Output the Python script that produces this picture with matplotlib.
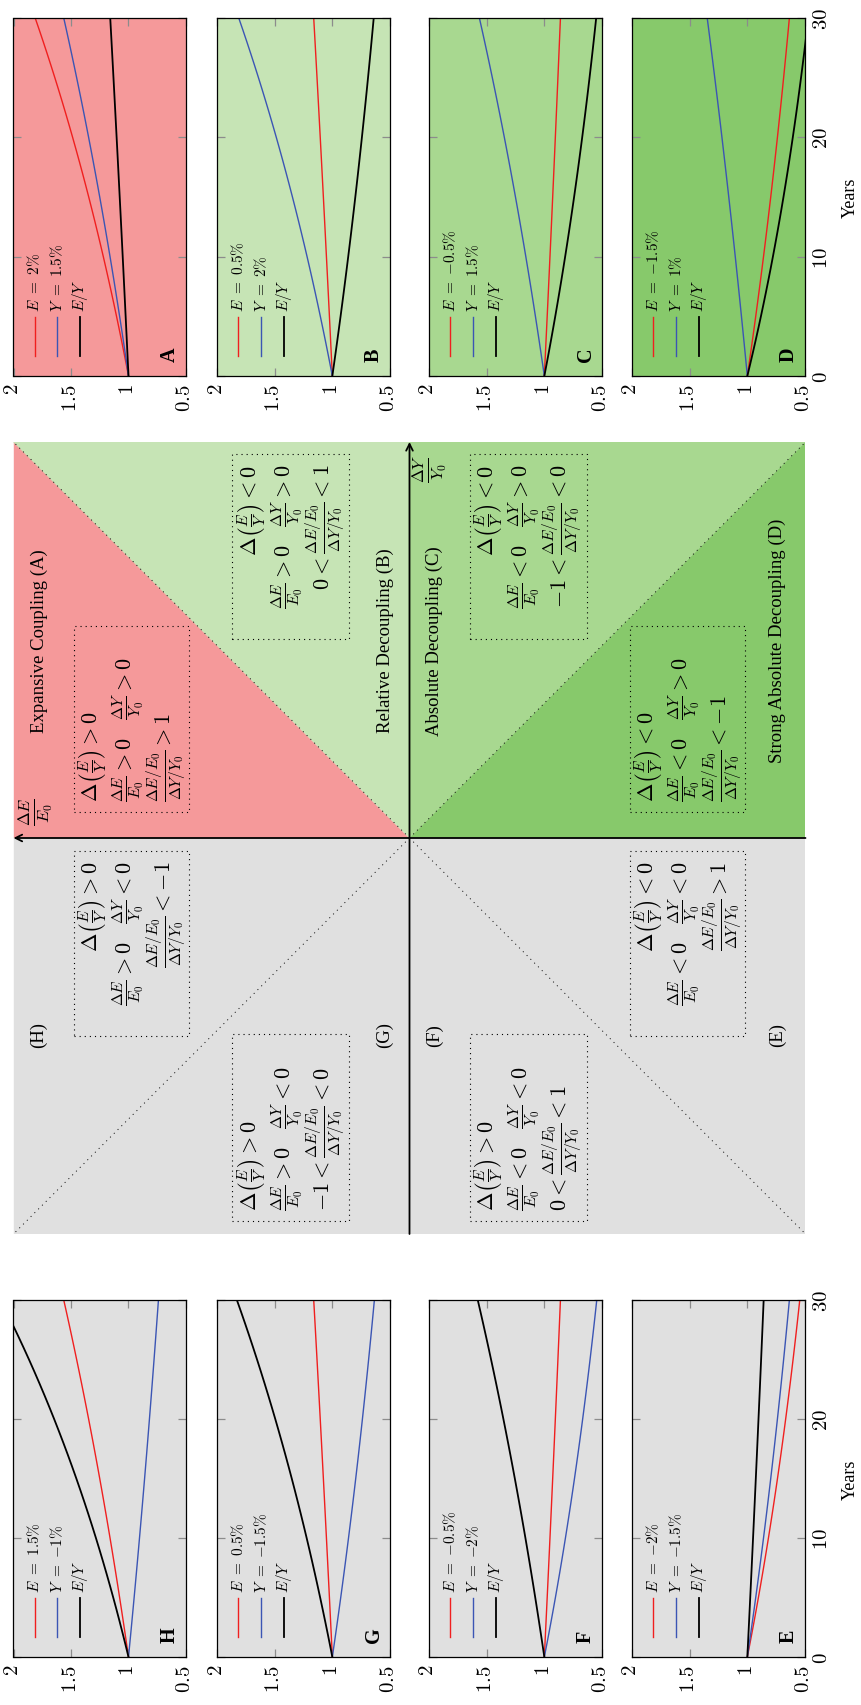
import numpy as np
import matplotlib
matplotlib.use("Agg")
import matplotlib.pyplot as plt
from matplotlib.patches import Polygon, Rectangle

plt.rcParams["font.family"] = ["Liberation Serif", "DejaVu Serif"]
plt.rcParams["mathtext.fontset"] = "cm"

W, H = 862, 1706

# ---- scenario data: annual growth rates (%) of emissions E and output Y ----
panel_names = ["A", "B", "C", "D", "H", "G", "F", "E"]
growth_E = [2.0, 0.5, -0.5, -1.5, 1.5, 0.5, -0.5, -2.0]
growth_Y = [1.5, 2.0, 1.5, 1.0, -1.0, -1.5, -2.0, -1.5]
legend_E = ["2", "0.5", "-0.5", "-1.5", "1.5", "0.5", "-0.5", "-2"]
legend_Y = ["1.5", "2", "1.5", "1", "-1", "-1.5", "-2", "-1.5"]

years = np.arange(0, 31)
value_ticks = [0.5, 1, 1.5, 2]
value_ticklabels = ["$0.5$", "$1$", "$1.5$", "$2$"]
year_ticks = [0, 10, 20, 30]
year_ticklabels = ["$0$", "$10$", "$20$", "$30$"]

# region colours
C_A = "#f5999a"
C_B = "#c6e4b5"
C_C = "#a8d890"
C_D = "#87c96b"
C_GRAY = "#e0e0e0"
panel_colors = [C_A, C_B, C_C, C_D, C_GRAY, C_GRAY, C_GRAY, C_GRAY]
RED = "#f01f1f"
BLUE = "#3b55b4"

# ---- quadrant diagram text ----
region_labels = ["Expansive Coupling (A)", "Relative Decoupling (B)",
                 "Absolute Decoupling (C)", "Strong Absolute Decoupling (D)",
                 "(H)", "(G)", "(F)", "(E)"]


def px_rect(x0, x1, y0, y1):
    return [x0 / W, 1 - y1 / H, (x1 - x0) / W, (y1 - y0) / H]


fig = plt.figure(figsize=(W / 100, H / 100), dpi=100)

col_x = [(13.5, 186), (217, 390), (429, 602), (632, 805)]
group_y = [(19, 377), (1301, 1658)]

for i, name in enumerate(panel_names):
    g, c = divmod(i, 4)
    x0, x1 = col_x[c]
    y0, y1 = group_y[g]
    ax = fig.add_axes(px_rect(x0, x1, y0, y1))
    ax.set_facecolor(panel_colors[i])

    e = (1 + growth_E[i] / 100) ** years
    y = (1 + growth_Y[i] / 100) ** years
    ax.plot(e, years, color=RED, lw=1.0)
    ax.plot(y, years, color=BLUE, lw=1.0)
    ax.plot(e / y, years, color="black", lw=1.3)

    # legend drawn sideways
    labels = [r"$E\ =\ {%s}\%%$" % legend_E[i], r"$Y\ =\ {%s}\%%$" % legend_Y[i], r"$E/Y$"]
    styles = [(RED, 1.0), (BLUE, 1.0), ("black", 1.3)]
    for k, xk in enumerate([0.122, 0.255, 0.388]):
        col, lw = styles[k]
        ax.plot([xk, xk], [0.056, 0.165], transform=ax.transAxes, color=col, lw=lw)
        ax.text(xk, 0.182, labels[k], transform=ax.transAxes, rotation=90,
                ha="center", va="bottom", fontsize=11)

    ax.text(0.907, 0.042, name, transform=ax.transAxes, rotation=90,
            ha="center", va="bottom", fontsize=14.5, fontweight="bold")

    ax.set_xlim(2, 0.5)
    ax.set_ylim(0, 30)
    ax.set_xticks(value_ticks)
    ax.set_xticklabels(value_ticklabels, rotation=90, fontsize=15)
    ax.set_yticks(year_ticks)
    ax.tick_params(axis="both", direction="in", length=6, width=0.9,
                   color="#8c8c8c", top=True, right=True, bottom=True, left=True)
    ax.tick_params(axis="x", pad=5)
    if c == 3:
        ax.set_yticklabels(year_ticklabels, rotation=90, fontsize=15, va="center")
        ax.tick_params(axis="y", labelleft=False, labelright=True, pad=6)
        fig.text(850 / W, 1 - (y0 + y1) / 2 / H, "Years", rotation=90,
                 ha="center", va="center", fontsize=13)
    else:
        ax.tick_params(axis="y", labelleft=False, labelright=False)
    for sp in ax.spines.values():
        sp.set_linewidth(0.9)
        sp.set_color("black")

# ---- central decoupling diagram (v = dE/E0 points left, u = dY/Y0 points up) ----
axd = fig.add_axes(px_rect(13.5, 805.5, 443, 1235))
axd.set_xlim(1, -1)
axd.set_ylim(-1, 1)
axd.axis("off")

regions = [
    ([(0, 0), (1, 0), (1, 1)], C_A),
    ([(0, 0), (1, 1), (0, 1)], C_B),
    ([(0, 0), (0, 1), (-1, 1)], C_C),
    ([(0, 0), (-1, 1), (-1, 0)], C_D),
    ([(-1, -1), (1, -1), (1, 0), (-1, 0)], C_GRAY),
]
for verts, col in regions:
    axd.add_patch(Polygon(verts, closed=True, facecolor=col, edgecolor=col, lw=0.3))

for a, b in [(1, 1), (-1, 1), (1, -1), (-1, -1)]:
    axd.plot([0, a], [0, b], color="black", lw=0.7, dashes=(1, 4.5))

arrow = dict(arrowstyle="->", lw=1.3, color="black", shrinkA=0, shrinkB=0,
             mutation_scale=12)
axd.annotate("", xy=(1, 0), xytext=(-1, 0), arrowprops=arrow, annotation_clip=False)
axd.annotate("", xy=(0, 1), xytext=(0, -1), arrowprops=arrow, annotation_clip=False)

axd.text(0.028, 0.534, r"$\frac{\Delta E}{E_0}$", transform=axd.transAxes,
         rotation=90, ha="center", va="center", fontsize=17)
axd.text(0.526, 0.967, r"$\frac{\Delta Y}{Y_0}$", transform=axd.transAxes,
         rotation=90, ha="center", va="center", fontsize=17)

label_pos = [(0.032, 0.75), (0.469, 0.75), (0.531, 0.75), (0.965, 0.75),
             (0.032, 0.252), (0.469, 0.252), (0.531, 0.252), (0.965, 0.252)]
for txt, (lx, ly) in zip(region_labels, label_pos):
    axd.text(lx, ly, txt, transform=axd.transAxes, rotation=90,
             ha="center", va="center", fontsize=13.5)

# condition boxes: (x0, x1, y0, y1, alignment, lines)
frac_E = r"\frac{\Delta E}{E_0}"
frac_Y = r"\frac{\Delta Y}{Y_0}"
ratio = r"\frac{\Delta E/E_0}{\Delta Y/Y_0}"
boxes = [
    (0.0764, 0.2222, 0.5328, 0.7678, "bottom",
     [r"$\Delta\left(\frac{E}{Y}\right) > 0$",
      r"$%s > 0\quad %s > 0$" % (frac_E, frac_Y),
      r"$%s > 1$" % ratio]),
    (0.2764, 0.4236, 0.7508, 0.9844, "top",
     [r"$\Delta\left(\frac{E}{Y}\right) < 0$",
      r"$%s > 0\quad %s > 0$" % (frac_E, frac_Y),
      r"$0 < %s < 1$" % ratio]),
    (0.5764, 0.7243, 0.7508, 0.9844, "top",
     [r"$\Delta\left(\frac{E}{Y}\right) < 0$",
      r"$%s < 0\quad %s > 0$" % (frac_E, frac_Y),
      r"$-1 < %s < 0$" % ratio]),
    (0.7778, 0.9236, 0.5328, 0.7678, "bottom",
     [r"$\Delta\left(\frac{E}{Y}\right) < 0$",
      r"$%s < 0\quad %s > 0$" % (frac_E, frac_Y),
      r"$%s < -1$" % ratio]),
    (0.0764, 0.2222, 0.2498, 0.4834, "top",
     [r"$\Delta\left(\frac{E}{Y}\right) > 0$",
      r"$%s > 0\quad %s < 0$" % (frac_E, frac_Y),
      r"$%s < -1$" % ratio]),
    (0.2764, 0.4236, 0.0169, 0.2519, "bottom",
     [r"$\Delta\left(\frac{E}{Y}\right) > 0$",
      r"$%s > 0\quad %s < 0$" % (frac_E, frac_Y),
      r"$-1 < %s < 0$" % ratio]),
    (0.5764, 0.7243, 0.0169, 0.2519, "bottom",
     [r"$\Delta\left(\frac{E}{Y}\right) > 0$",
      r"$%s < 0\quad %s < 0$" % (frac_E, frac_Y),
      r"$0 < %s < 1$" % ratio]),
    (0.7778, 0.9236, 0.2498, 0.4834, "top",
     [r"$\Delta\left(\frac{E}{Y}\right) < 0$",
      r"$%s < 0\quad %s < 0$" % (frac_E, frac_Y),
      r"$%s > 1$" % ratio]),
]
for bx0, bx1, by0, by1, align, lines in boxes:
    axd.add_patch(Rectangle((bx0, by0), bx1 - bx0, by1 - by0, transform=axd.transAxes,
                            fill=False, edgecolor="black", lw=0.8,
                            linestyle=(0, (1, 3.6))))
    ty = by0 + 0.0135 if align == "bottom" else by1 - 0.0115
    for off, line in zip([0.024, 0.069, 0.116], lines):
        axd.text(bx0 + off, ty, line, transform=axd.transAxes, rotation=90,
                 ha="center", va=align, fontsize=16)

fig.savefig("out.png", dpi=100)
